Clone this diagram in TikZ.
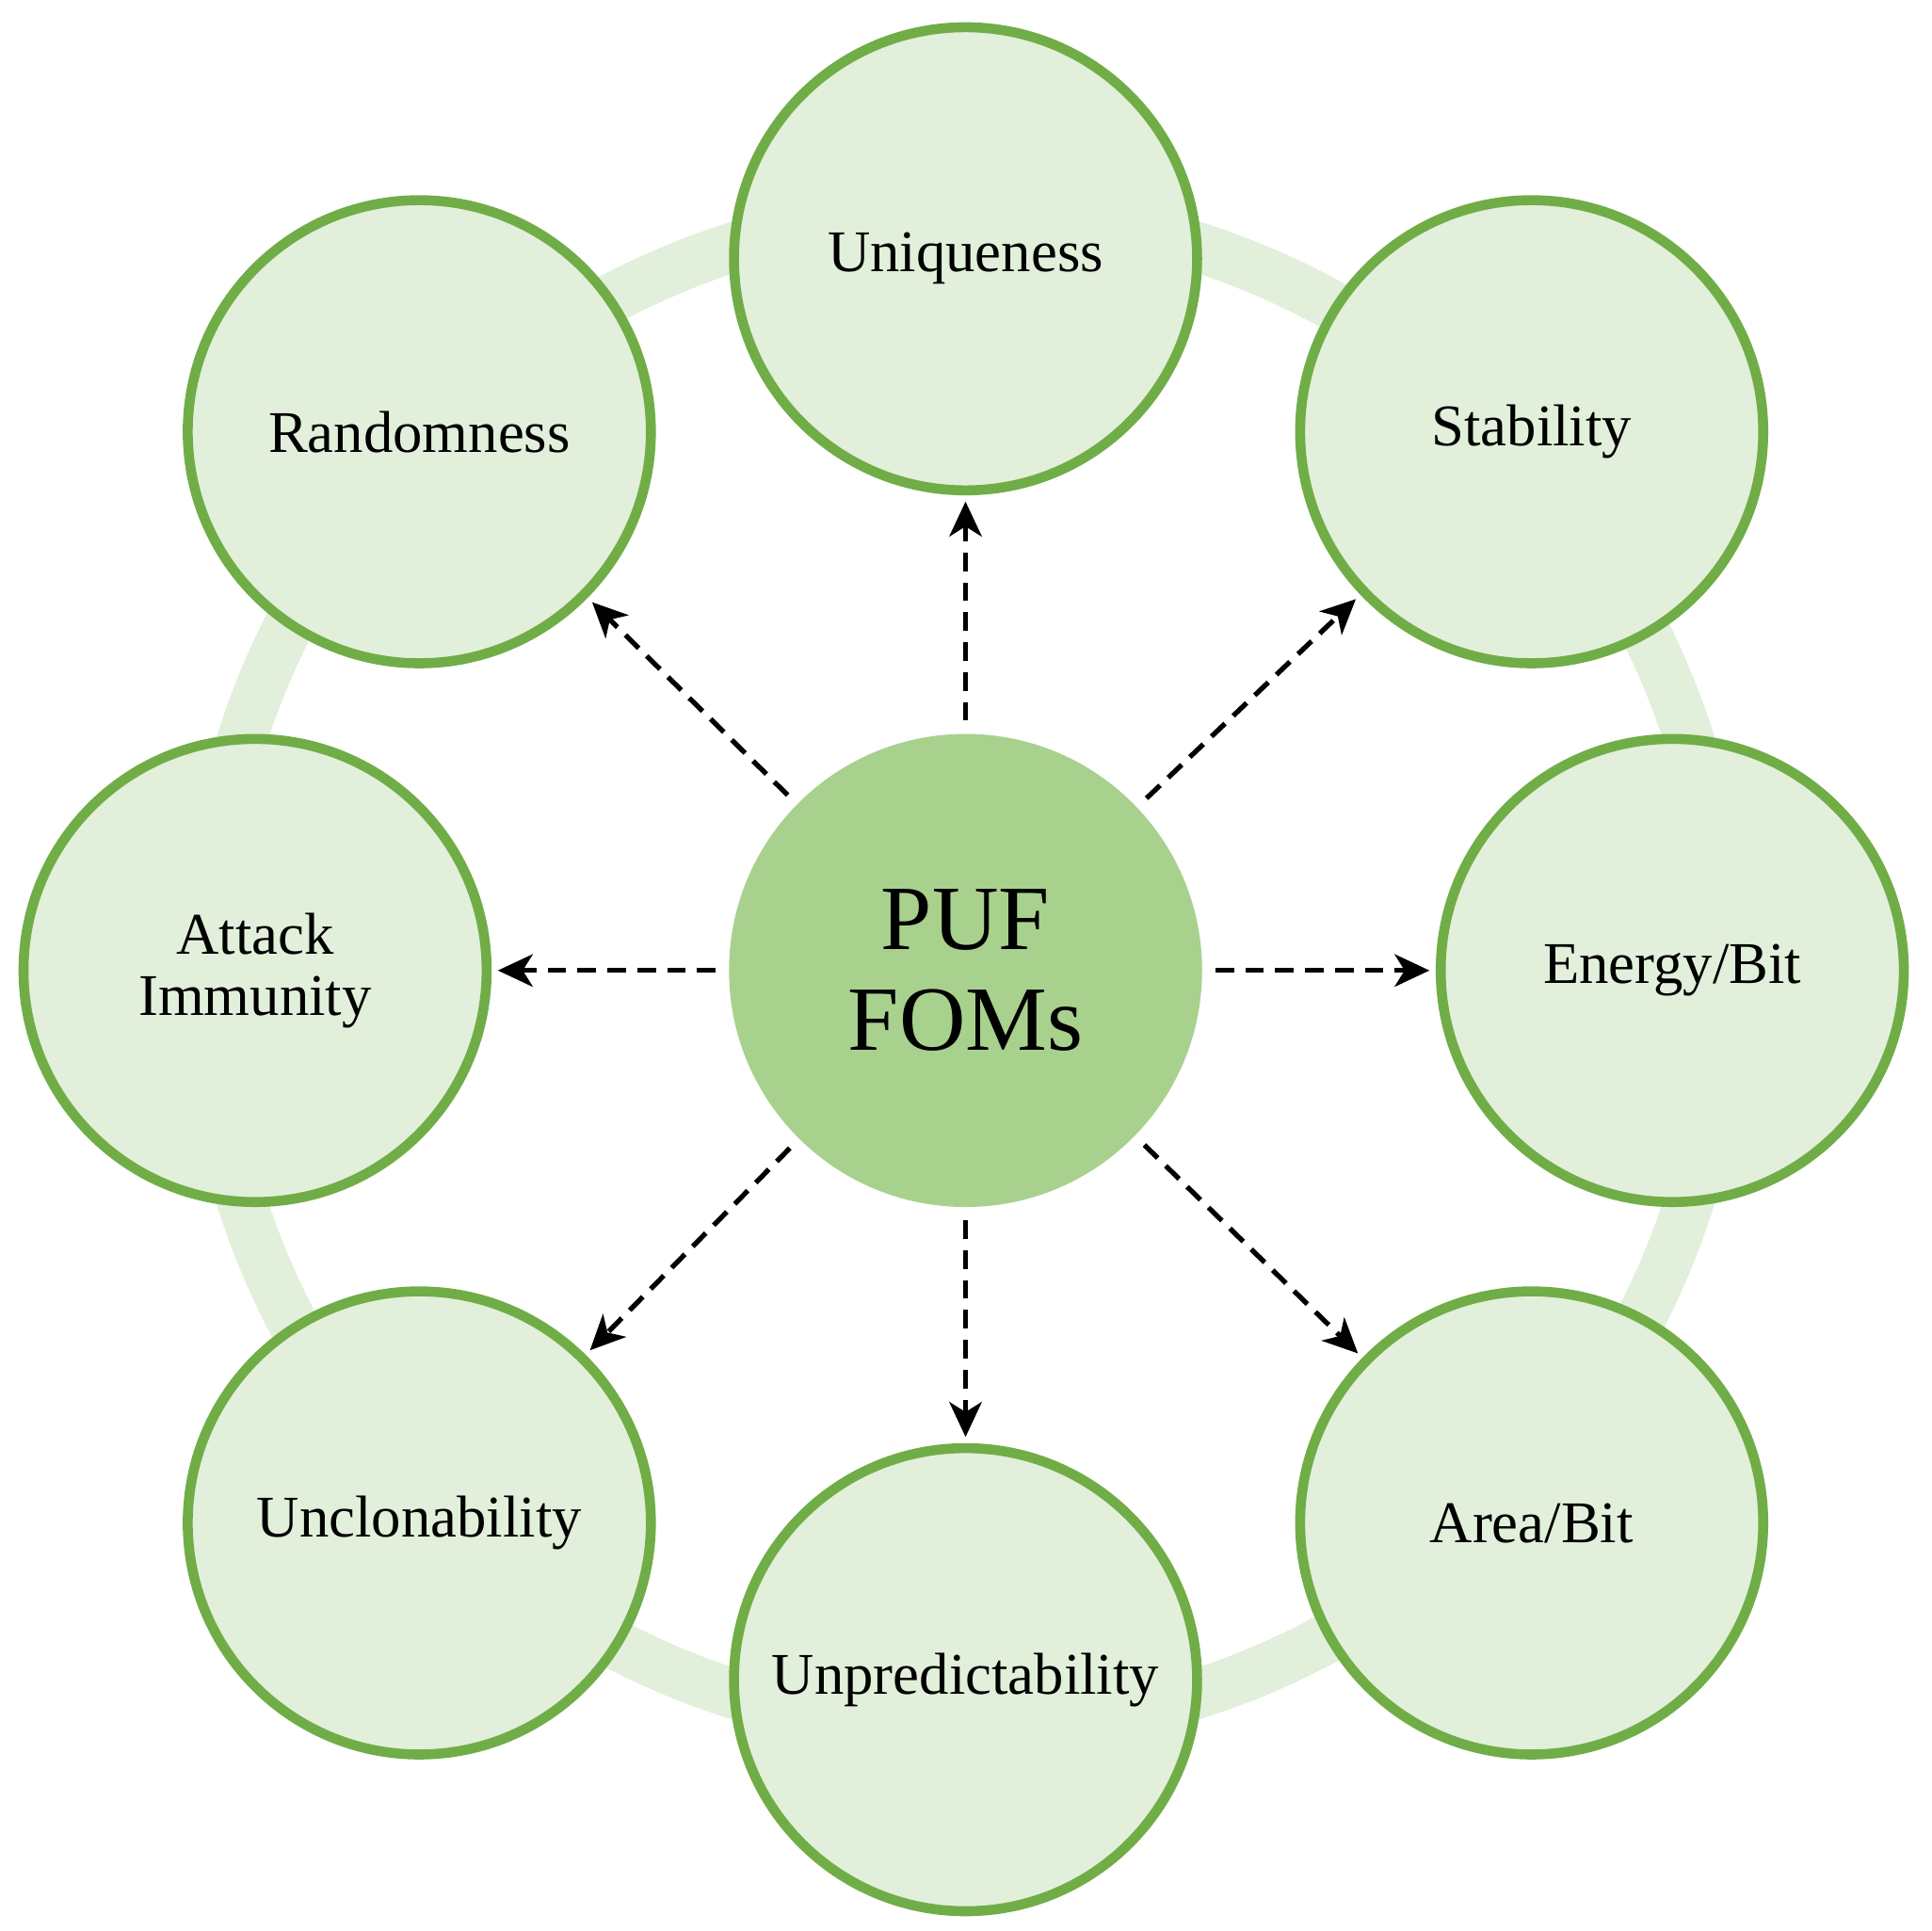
\documentclass[tikz,border=0pt]{standalone}
\usepackage{fontspec}
\setmainfont{Liberation Serif}
\usetikzlibrary{arrows.meta}
\definecolor{ringc}{HTML}{E2EFDA}
\definecolor{bord}{HTML}{70AD47}
\definecolor{cen}{HTML}{A9D18E}
\tikzset{
 fom/.style={circle,draw=bord,fill=ringc,line width=0.08cm,minimum size=3.72cm,inner sep=0pt,align=center,font=\fontsize{13.5}{14}\selectfont},
 arr/.style={-{Stealth[length=0.28cm,width=0.26cm,inset=0.08cm]},line width=0.04cm,dash pattern=on 0.15cm off 0.09cm,shorten <=0.1cm,shorten >=0.05cm}
}
\begin{document}
\begin{tikzpicture}[x=0.01cm,y=-0.01cm]
\useasboundingbox (0,0) rectangle (1552,1552);
\draw[ringc,line width=0.4cm] (776,780) circle (6.1cm);
\node[circle,fill=cen,minimum size=3.8cm,inner sep=0pt,align=center,font=\fontsize{21}{23}\selectfont] (c) at (776,780) {PUF\\FOMs};
\node[fom] (u) at (776,208) {Uniqueness};
\node[fom] (s) at (1231,347) {Stability};
\node[fom] (e) at (1344,780) {Energy/Bit};
\node[fom] (a) at (1231,1224) {Area/Bit};
\node[fom] (p) at (776,1350) {Unpredictability};
\node[fom] (l) at (337,1224) {Unclonability};
\node[fom] (i) at (205,780) {Attack\\Immunity};
\node[fom] (r) at (337,347) {Randomness};
\foreach \n in {u,s,e,a,p,l,i,r} \draw[arr] (c) -- (\n);
\end{tikzpicture}
\end{document}
